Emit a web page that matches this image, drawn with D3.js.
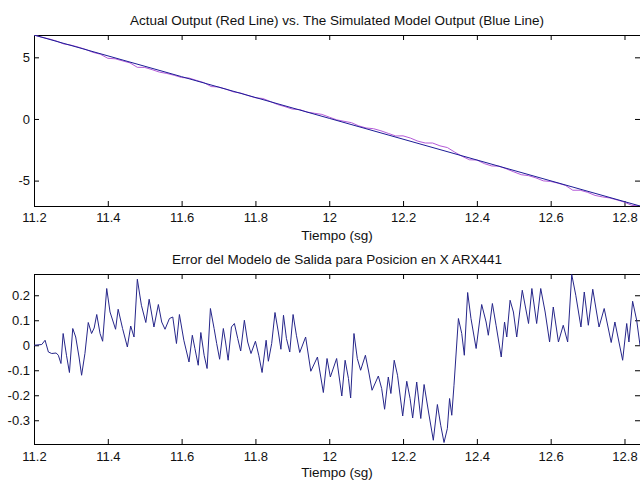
<!DOCTYPE html>
<html>
<head>
<meta charset="utf-8">
<script src="https://cdn.jsdelivr.net/npm/d3@7"></script>
<style>
  body { margin: 0; background: #fff; }
  text { font-family: "Liberation Sans", Arial, sans-serif; fill: #111; }
</style>
</head>
<body>
<div id="chart"></div>
<script>
// x ticks shared by both panels
const xTicks = [11.2, 11.4, 11.6, 11.8, 12, 12.2, 12.4, 12.6, 12.8];
const xTickLabels = ['11.2', '11.4', '11.6', '11.8', '12', '12.2', '12.4', '12.6', '12.8'];

// top panel: actual output vs simulated model output
const outTicks = [-5, 0, 5];
const outTickLabels = ['-5', '0', '5'];
const actualTime = [11.20, 11.22, 11.24, 11.26, 11.28, 11.30, 11.32, 11.34, 11.36, 11.38,
  11.40, 11.42, 11.44, 11.46, 11.48, 11.50, 11.52, 11.54, 11.56, 11.58,
  11.60, 11.62, 11.64, 11.66, 11.68, 11.70, 11.72, 11.74, 11.76, 11.78,
  11.80, 11.82, 11.84, 11.86, 11.88, 11.90, 11.92, 11.94, 11.96, 11.98,
  12.00, 12.02, 12.04, 12.06, 12.08, 12.10, 12.12, 12.14, 12.16, 12.18,
  12.20, 12.22, 12.24, 12.26, 12.28, 12.30, 12.32, 12.34, 12.36, 12.38,
  12.40, 12.42, 12.44, 12.46, 12.48, 12.50, 12.52, 12.54, 12.56, 12.58,
  12.60, 12.62, 12.64, 12.66, 12.68, 12.70, 12.72, 12.74, 12.76, 12.78,
  12.80, 12.82, 12.842];
const actualOut = [6.81, 6.64, 6.50, 6.33, 6.09, 5.99, 5.83, 5.64, 5.40, 5.25,
  4.92, 4.88, 4.71, 4.55, 4.19, 4.18, 4.00, 3.80, 3.69, 3.54,
  3.36, 3.32, 3.13, 2.95, 2.63, 2.59, 2.42, 2.20, 2.10, 1.90,
  1.72, 1.66, 1.42, 1.17, 1.00, 0.80, 0.76, 0.56, 0.46, 0.37,
  0.15, -0.07, -0.19, -0.30, -0.56, -0.73, -0.79, -0.96, -1.17, -1.38,
  -1.37, -1.55, -1.80, -1.95, -1.95, -2.18, -2.32, -2.69, -3.03, -3.31,
  -3.33, -3.62, -3.81, -3.83, -4.05, -4.29, -4.52, -4.60, -4.78, -5.02,
  -5.07, -5.21, -5.39, -5.78, -5.78, -5.95, -6.20, -6.32, -6.41, -6.57,
  -6.75, -7.01, -7.06];
const modelTime = [11.2, 11.6, 12.0, 12.4, 12.842];
const modelOut = [6.81, 3.43, 0.05, -3.33, -7.06];

// bottom panel: model error
const errTicks = [-0.3, -0.2, -0.1, 0, 0.1, 0.2];
const errTickLabels = ['-0.3', '-0.2', '-0.1', '0', '0.1', '0.2'];
const errTime = [11.200, 11.221, 11.230, 11.239, 11.248, 11.260, 11.266, 11.273, 11.279, 11.288,
  11.296, 11.305, 11.313, 11.322, 11.329, 11.338, 11.347, 11.356, 11.363, 11.370,
  11.379, 11.386, 11.397, 11.406, 11.421, 11.428, 11.440, 11.453, 11.462, 11.471,
  11.480, 11.491, 11.503, 11.512, 11.525, 11.537, 11.546, 11.555, 11.567, 11.576,
  11.586, 11.594, 11.606, 11.620, 11.629, 11.636, 11.645, 11.652, 11.661, 11.669,
  11.678, 11.688, 11.695, 11.703, 11.713, 11.719, 11.726, 11.735, 11.743, 11.752,
  11.760, 11.770, 11.779, 11.788, 11.800, 11.809, 11.818, 11.829, 11.835, 11.844,
  11.853, 11.862, 11.869, 11.876, 11.884, 11.893, 11.902, 11.911, 11.920, 11.936,
  11.950, 11.968, 11.984, 11.994, 12.003, 12.020, 12.034, 12.043, 12.052, 12.058,
  12.067, 12.076, 12.085, 12.098, 12.107, 12.116, 12.133, 12.142, 12.150, 12.160,
  12.167, 12.176, 12.185, 12.199, 12.210, 12.219, 12.226, 12.237, 12.248, 12.257,
  12.269, 12.282, 12.293, 12.302, 12.311, 12.320, 12.326, 12.332, 12.338, 12.350,
  12.359, 12.366, 12.375, 12.384, 12.398, 12.413, 12.425, 12.431, 12.442, 12.452,
  12.466, 12.475, 12.481, 12.490, 12.499, 12.508, 12.523, 12.540, 12.549, 12.562,
  12.573, 12.585, 12.597, 12.607, 12.621, 12.634, 12.646, 12.657, 12.668, 12.682,
  12.691, 12.702, 12.714, 12.731, 12.745, 12.764, 12.774, 12.795, 12.806, 12.812,
  12.822, 12.833, 12.842];
const errValue = [0.000, 0.003, 0.020, -0.027, -0.033, -0.031, -0.040, -0.073, 0.047, -0.040,
  -0.109, 0.067, 0.033, -0.047, -0.120, -0.033, 0.091, 0.047, 0.069, 0.123,
  0.047, 0.016, 0.227, 0.133, 0.064, 0.144, 0.067, -0.007, 0.077, 0.033,
  0.264, 0.160, 0.091, 0.184, 0.073, 0.163, 0.093, 0.064, 0.107, 0.113,
  0.007, 0.123, 0.020, -0.067, 0.040, -0.013, -0.080, 0.051, -0.040, -0.093,
  0.147, 0.067, 0.007, -0.056, 0.067, 0.013, -0.060, 0.073, 0.087, 0.027,
  -0.023, 0.100, 0.013, -0.033, 0.016, -0.040, -0.109, 0.020, -0.064, 0.007,
  0.131, 0.053, -0.016, 0.120, 0.027, -0.027, 0.123, 0.040, -0.029, 0.033,
  -0.104, -0.047, -0.189, -0.053, -0.127, -0.053, -0.203, -0.060, -0.133, -0.211,
  0.047, -0.053, -0.100, -0.040, -0.107, -0.180, -0.123, -0.173, -0.256, -0.127,
  -0.193, -0.060, -0.120, -0.283, -0.144, -0.213, -0.291, -0.147, -0.293, -0.157,
  -0.267, -0.380, -0.237, -0.320, -0.389, -0.333, -0.213, -0.280, -0.160, 0.107,
  0.047, -0.040, 0.211, 0.107, -0.013, 0.163, 0.093, 0.040, 0.167, 0.080,
  -0.047, 0.093, 0.033, 0.180, 0.133, 0.033, 0.220, 0.087, 0.227, 0.087,
  0.227, 0.133, 0.013, 0.153, 0.013, 0.080, 0.013, 0.283, 0.200, 0.073,
  0.213, 0.080, 0.224, 0.073, 0.147, 0.011, 0.093, -0.060, 0.087, 0.013,
  0.176, 0.100, 0.000];

const width = 640;
const height = 481;
const left = 34;
const right = 640;

const svg = d3.select('#chart')
  .append('svg')
  .attr('width', width)
  .attr('height', height);

const xScale = d3.scaleLinear()
  .domain([11.2, 12.842])
  .range([left, right]);

const yTop = d3.scaleLinear()
  .domain([-7.06, 6.81])
  .range([206, 35]);

const yBottom = d3.scaleLinear()
  .domain([-0.395, 0.285])
  .range([444, 274]);

function drawPanel(id, yScale, yTicks, yLabels, title, titleY, xLabelY, tickPad) {
  const bottom = yScale.range()[0];
  const top = yScale.range()[1];
  const g = svg.append('g').attr('id', id);

  g.append('clipPath')
    .attr('id', id + '-clip')
    .append('rect')
    .attr('x', left)
    .attr('y', top)
    .attr('width', right - left)
    .attr('height', bottom - top);

  // ticks point inward like matlab
  g.append('g')
    .attr('transform', 'translate(0,' + bottom + ')')
    .call(d3.axisBottom(xScale).tickValues(xTicks).tickSize(-5).tickSizeOuter(0)
      .tickPadding(tickPad).tickFormat((d, i) => xTickLabels[i]))
    .call(a => a.select('.domain').remove());

  g.append('g')
    .attr('transform', 'translate(0,' + top + ')')
    .call(d3.axisTop(xScale).tickValues(xTicks).tickSize(-5).tickSizeOuter(0).tickFormat(''))
    .call(a => a.select('.domain').remove());

  g.append('g')
    .attr('transform', 'translate(' + left + ',0)')
    .call(d3.axisLeft(yScale).tickValues(yTicks).tickSize(-5).tickSizeOuter(0)
      .tickPadding(4).tickFormat((d, i) => yLabels[i]))
    .call(a => a.select('.domain').remove());

  g.append('g')
    .attr('transform', 'translate(' + right + ',0)')
    .call(d3.axisRight(yScale).tickValues(yTicks).tickSize(-5).tickSizeOuter(0).tickFormat(''))
    .call(a => a.select('.domain').remove());

  g.selectAll('.tick text')
    .attr('fill', '#111')
    .style('font-size', '13px')
    .style('font-family', '"Liberation Sans", Arial, sans-serif');
  g.selectAll('.tick line').attr('stroke', '#000');

  g.append('rect')
    .attr('x', left + 0.5)
    .attr('y', top + 0.5)
    .attr('width', right - left)
    .attr('height', bottom - top)
    .attr('fill', 'none')
    .attr('stroke', '#000');

  g.append('text')
    .attr('x', (left + right) / 2)
    .attr('y', titleY)
    .attr('text-anchor', 'middle')
    .style('font-size', '13.5px')
    .text(title);

  g.append('text')
    .attr('x', (left + right) / 2)
    .attr('y', xLabelY)
    .attr('text-anchor', 'middle')
    .style('font-size', '13.5px')
    .text('Tiempo (sg)');

  return g.append('g').attr('clip-path', 'url(#' + id + '-clip)');
}

const topPlot = drawPanel('top', yTop, outTicks, outTickLabels,
  'Actual Output (Red Line) vs. The Simulated Model Output (Blue Line)', 25, 240, 7);

const bottomPlot = drawPanel('bottom', yBottom, errTicks, errTickLabels,
  'Error del Modelo de Salida para Posicion en X ARX441', 264, 477, 8);

topPlot.append('path')
  .datum(actualTime.map((t, i) => [t, actualOut[i]]))
  .attr('fill', 'none')
  .attr('stroke', '#b45ad8')
  .attr('stroke-width', 1)
  .attr('d', d3.line().x(d => xScale(d[0])).y(d => yTop(d[1])));

topPlot.append('path')
  .datum(modelTime.map((t, i) => [t, modelOut[i]]))
  .attr('fill', 'none')
  .attr('stroke', '#1c1c96')
  .attr('stroke-width', 1)
  .attr('d', d3.line().x(d => xScale(d[0])).y(d => yTop(d[1])));

bottomPlot.append('path')
  .datum(errTime.map((t, i) => [t, errValue[i]]))
  .attr('fill', 'none')
  .attr('stroke', '#26268a')
  .attr('stroke-width', 1)
  .attr('d', d3.line().x(d => xScale(d[0])).y(d => yBottom(d[1])));
</script>
</body>
</html>
